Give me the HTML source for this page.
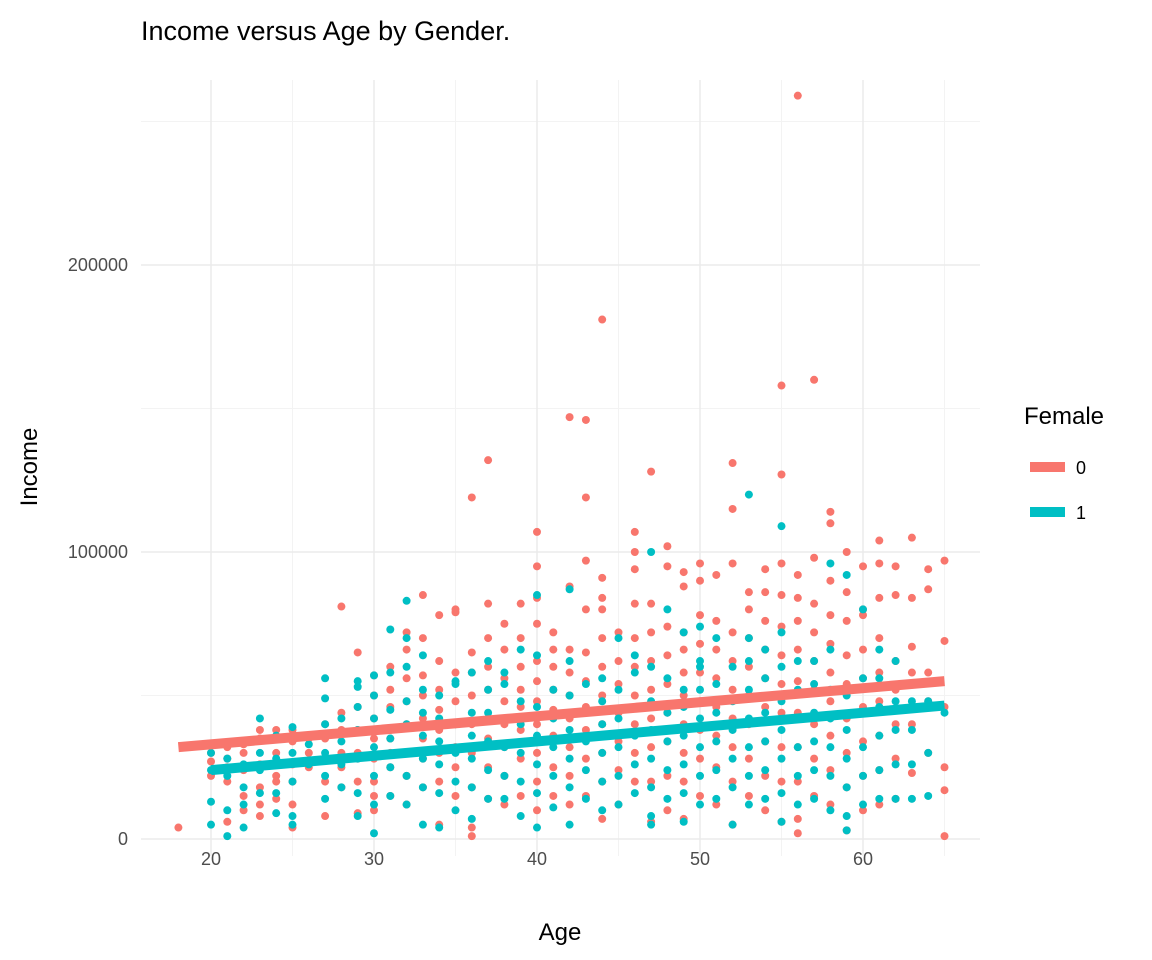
<!DOCTYPE html>
<html><head><meta charset="utf-8"><style>
html,body{margin:0;padding:0;background:#fff;}
svg{display:block;font-family:"Liberation Sans",sans-serif;}
</style></head><body>
<svg id="chart" width="1152" height="960"></svg>
<script>
const ages = [18,19,20,21,22,23,24,25,26,27,28,29,30,31,32,33,34,35,36,37,38,39,40,41,42,43,44,45,46,47,48,49,50,51,52,53,54,55,56,57,58,59,60,61,62,63,64,65];
const maleIncomes = [[4],[],[22,27,30],[20,25,28,32,6],[15,24,30,33,10],[12,18,26,35,38,8],[14,22,30,38,20],[4,12,20,26,34,38],[25,30,35],[8,20,28,35,40,28],[18,25,30,38,44,81],[9,20,30,38,46,65,28],[10,20,28,35,42,50,57,15],[15,25,30,38,46,52,60,35],[12,22,30,40,48,56,66,72],[18,28,35,42,50,57,85,70],[5,20,30,38,45,52,62,78],[15,25,32,40,48,58,79,80],[1,4,18,30,40,50,58,65,119],[14,25,35,42,52,60,70,82,132],[12,22,32,40,48,56,66,75],[15,28,38,46,52,60,70,82],[10,20,30,40,48,55,62,75,95,107,84],[15,25,36,45,52,60,66,72],[12,22,32,42,50,58,66,88,147],[15,28,38,46,55,65,80,97,146,119],[7,20,30,40,50,60,70,80,91,84,181],[12,24,34,44,54,62,72],[20,30,40,50,60,70,82,100,107,94],[6,20,32,42,52,62,72,82,128],[10,22,34,44,54,64,74,95,102],[7,20,30,40,50,58,66,72,93,88],[15,28,38,48,58,68,78,96,90],[12,25,36,46,56,66,76,92],[5,20,32,42,52,62,72,96,115,131],[15,28,40,50,60,70,80,86],[10,22,34,46,56,66,76,86,94],[6,20,32,44,54,64,74,85,96,127,158],[2,7,20,32,44,55,66,76,84,259,92],[15,28,40,52,62,72,82,98,160],[12,24,36,48,58,68,78,90,114,110],[3,18,30,42,54,64,76,86,100],[10,22,34,46,56,66,78,95,80],[12,24,36,48,58,70,84,96,104],[14,28,40,52,62,85,95],[23,40,58,67,84,105],[30,48,58,87,94],[1,17,25,46,69,97]];
const femaleIncomes = [[],[],[5,13,24,30],[1,10,22,28],[4,12,18,26],[16,24,42,30],[9,16,28,36],[5,8,20,30,39],[26,33],[14,22,30,40,49,56],[18,26,34,42],[8,16,28,38,46,55,53],[2,12,22,32,42,50,57],[15,25,35,45,58,73],[12,22,30,40,48,60,70,83],[5,18,28,36,44,52,64],[4,16,26,34,42,50],[10,20,30,40,54,55],[7,18,28,36,44,58],[14,24,34,44,52,62],[14,22,32,42,54,58],[8,20,30,40,48,66],[4,16,26,36,46,64,85],[11,22,32,42,52],[5,18,28,38,50,62,87],[14,24,34,44,54],[10,20,30,40,48,56],[12,22,32,42,52,70],[16,26,36,46,58,64],[5,8,18,28,38,48,60,100],[14,24,34,44,56,80],[6,16,26,36,46,52,72],[12,22,32,42,52,62,74,60],[14,24,34,44,54,70],[5,18,28,38,48,60],[12,22,32,42,52,62,120,70],[14,24,34,44,56,66],[6,16,28,38,48,60,72,109],[12,22,32,42,52,62],[14,24,34,44,54,62],[10,22,32,42,52,66,96],[3,8,18,28,38,50,92],[12,22,32,44,56,80],[14,24,36,46,56,66],[14,26,38,48,62],[14,26,38,48],[15,30,48],[44]];
const maleFit = [[18,32],[65,55]];
const femaleFit = [[20,24],[65,46.5]];
const xTicks = [20,30,40,50,60];
const yTicks = [0,100000,200000];

const svg = document.getElementById('chart');
const NS = 'http://www.w3.org/2000/svg';
const X = a => 211 + (a-20)*16.3;
const Y = v => 839 - v*0.00287;
function mk(tag, attrs, parent){const e=document.createElementNS(NS,tag);for(const k in attrs)e.setAttribute(k,attrs[k]);(parent||svg).appendChild(e);return e;}

const grid = mk('g',{});


[25,35,45,55,65].forEach(a=>mk('line',{x1:X(a),x2:X(a),y1:80,y2:856,stroke:'#f3f3f3','stroke-width':1},grid));
[50000,150000,250000].forEach(v=>mk('line',{x1:141,x2:980,y1:Y(v),y2:Y(v),stroke:'#f3f3f3','stroke-width':1},grid));
xTicks.forEach(a=>mk('line',{x1:X(a),x2:X(a),y1:80,y2:856,stroke:'#ebebeb','stroke-width':1.5},grid));
yTicks.forEach(v=>mk('line',{x1:141,x2:980,y1:Y(v),y2:Y(v),stroke:'#ebebeb','stroke-width':1.5},grid));

xTicks.forEach(a=>{const t=mk('text',{x:X(a),y:865,'text-anchor':'middle','font-size':18,fill:'#4d4d4d'});t.textContent=a;

});
yTicks.forEach(v=>{const t=mk('text',{x:128,y:Y(v)+6,'text-anchor':'end','font-size':18,fill:'#4d4d4d'});t.textContent=v;

});

function pts(data,color,name){
  const g=mk('g',{fill:color});
  
  
  data.forEach((arr,i)=>arr.forEach(v=>{
    const c=mk('circle',{cx:X(ages[i]),cy:Y(v*1000),r:4},g);
    
    
  }));
}
pts(maleIncomes,'#F8766D','male-points');
pts(femaleIncomes,'#00BFC4','female-points');

function fit(f,color,name){
  const l=mk('line',{x1:X(f[0][0]),y1:Y(f[0][1]*1000),x2:X(f[1][0]),y2:Y(f[1][1]*1000),stroke:color,'stroke-width':10});
  
  
}
fit(maleFit,'#F8766D','male-fit-line');
fit(femaleFit,'#00BFC4','female-fit-line');
</script>
<div style="position:absolute;left:0;top:0;width:1152px;height:960px;pointer-events:none;">
<svg width="1152" height="960" style="font-family:'Liberation Sans',sans-serif;">
<text x="141" y="40" font-size="27" fill="#000">Income versus Age by Gender.</text>
<text x="560" y="940" font-size="24" text-anchor="middle" fill="#000">Age</text>
<text transform="translate(37,467) rotate(-90)" font-size="24" text-anchor="middle" fill="#000">Income</text>
<g>
<text x="1024" y="424" font-size="24" fill="#000">Female</text>
<line x1="1030" x2="1065" y1="467" y2="467" stroke="#F8766D" stroke-width="10"/>
<text x="1076" y="474" font-size="18" fill="#000">0</text>
<line x1="1030" x2="1065" y1="512" y2="512" stroke="#00BFC4" stroke-width="10"/>
<text x="1076" y="519" font-size="18" fill="#000">1</text>
</g>
</svg></div>
</body></html>
